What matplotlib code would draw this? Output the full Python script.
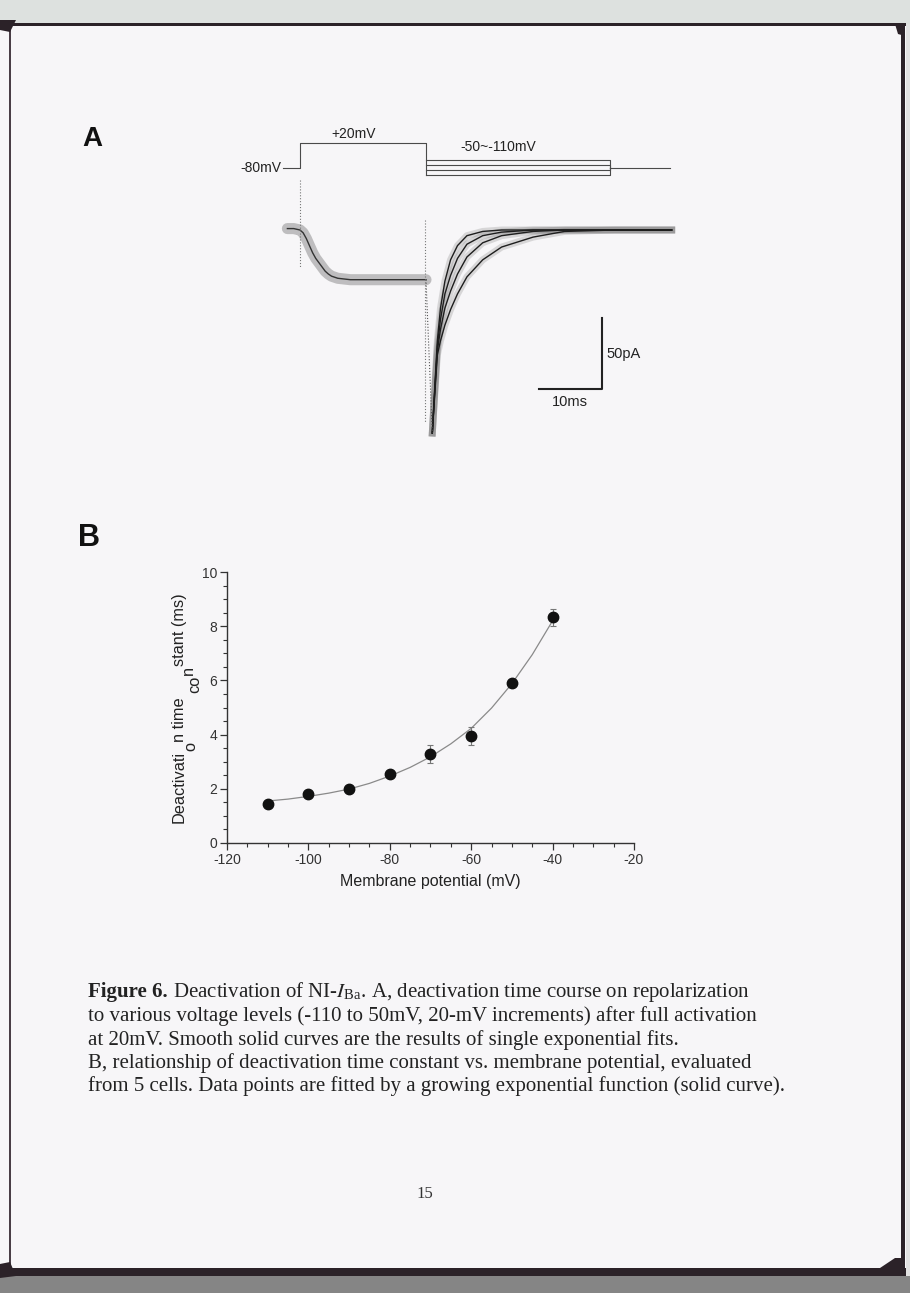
import matplotlib
matplotlib.use('Agg')
import matplotlib.pyplot as plt
from matplotlib.patches import Rectangle, Polygon
from matplotlib.ticker import MultipleLocator

plt.rcParams['font.family'] = ['Liberation Sans', 'DejaVu Sans']
plt.rcParams['mathtext.fontset'] = 'stix'
plt.rcParams['axes.unicode_minus'] = False

W, H = 910, 1293

# ---- panel A: voltage protocol (ms, mV) ----
hold_mv = -80
step_mv = 20
tail_mv = [-50, -70, -90, -110]
prot_t = [-2.7, 0.0, 20.0, 49.2, 58.7]  # start, step on, step off, tail off, end

# activation current during the +20 mV step (ms, pA)
act_t = [-2.0, -1.0, 0.0, 0.5, 1.0, 1.5, 2.0, 2.5, 3.0, 3.5, 4.0, 4.5, 5.0, 6.0, 8.0, 12.0, 16.0, 20.0]
act_i = [1, 1, 0, -2, -6, -11, -16, -20, -23, -26, -29, -31, -32.5, -34, -35, -35, -35, -35]

# tail currents on repolarization (ms after tail onset, pA)
tail_t0 = 21.0
tail_dt = [0, 0.4, 0.8, 1.3, 2.0, 2.9, 4.0, 5.5, 8.0, 11.0, 16.0, 21.0, 29.0, 38.0]
tail_110 = [-143, -110, -78, -55, -36, -21, -11, -4, -1, 0, 0, 0, 0, 0]
tail_90 = [-143, -112, -82, -63, -45, -32, -20, -10, -4, -1.5, 0, 0, 0, 0]
tail_70 = [-143, -113, -85, -70, -55, -43, -31, -19, -9, -4, -1, 0, 0, 0]
tail_50 = [-143, -115, -88, -78, -67, -56, -45, -33, -21, -12, -5, -1, 0, 0]

# ---- panel B: time constant vs potential ----
potential = [-110, -100, -90, -80, -70, -60, -50, -40]
tau = [1.44, 1.80, 1.98, 2.55, 3.28, 3.94, 5.90, 8.33]
tau_err = [0.08, 0.10, 0.08, 0.12, 0.32, 0.33, 0.10, 0.32]
fit_v = [-110, -105, -100, -95, -90, -85, -80, -75, -70, -65, -60, -55, -50, -45, -40]
fit_tau = [1.55, 1.62, 1.72, 1.84, 1.99, 2.20, 2.47, 2.79, 3.18, 3.66, 4.23, 4.98, 5.88, 6.95, 8.20]

caption = [
    'to various voltage levels (-110 to 50mV, 20-mV increments) after full activation',
    'at 20mV. Smooth solid curves are the results of single exponential fits.',
    'B, relationship of deactivation time constant vs. membrane potential, evaluated',
    'from 5 cells. Data points are fitted by a growing exponential function (solid curve).',
]

fig = plt.figure(figsize=(W / 100, H / 100), dpi=100)
fig.patch.set_facecolor('#f7f6f8')


def frac(x0, y0, x1, y1):
    # pixel box (top-left origin) -> figure axes rect
    return [x0 / W, 1 - y1 / H, (x1 - x0) / W, (y1 - y0) / H]


# page / book cover decoration
bg = fig.add_axes([0, 0, 1, 1], zorder=-5)
bg.set_xlim(0, W)
bg.set_ylim(H, 0)
bg.axis('off')
ink = '#2b2228'
bg.add_patch(Rectangle((0, 0), W, 24, color='#dde1df', lw=0))
bg.add_patch(Rectangle((0, 1276), W, 17, color='#858585', lw=0))
bg.add_patch(Rectangle((906, 24), 4, 1252, color='#e2e2e2', lw=0))
bg.add_patch(Rectangle((6, 23), 900, 3, color=ink, lw=0))
bg.add_patch(Rectangle((9, 24), 1.6, 1250, color='#4a3e46', lw=0))
bg.add_patch(Rectangle((901, 24), 4, 1250, color=ink, lw=0))
bg.add_patch(Rectangle((6, 1268), 900, 8, color=ink, lw=0))
bg.add_patch(Polygon([(0, 20), (16, 20), (10, 32), (0, 30)], color=ink, lw=0))
bg.add_patch(Polygon([(0, 1264), (10, 1262), (16, 1276), (0, 1278)], color=ink, lw=0))
bg.add_patch(Polygon([(880, 1268), (895, 1258), (905, 1258), (905, 1276), (880, 1276)], color=ink, lw=0))
bg.add_patch(Polygon([(895, 24), (905, 24), (905, 36), (898, 34)], color=ink, lw=0))

# ---- panel A ----
xl = ((250 - 300) / 6.3, (700 - 300) / 6.3)
tr = fig.add_axes(frac(250, 120, 700, 450))
tr.set_xlim(*xl)
tr.set_ylim(-(450 - 230) / 1.42, -(120 - 230) / 1.42)
tr.axis('off')
tr.patch.set_alpha(0)

pr = fig.add_axes(frac(250, 120, 700, 450))
pr.set_xlim(*xl)
pr.set_ylim(-80 - (450 - 168) / 0.25, -80 + (168 - 120) / 0.25)
pr.axis('off')
pr.patch.set_alpha(0)

pc = '#4a4a4a'
t0, t1, t2, t3, t4 = prot_t
pr.plot([t0, t1, t1, t2, t2], [hold_mv, hold_mv, step_mv, step_mv, min(tail_mv)], color=pc, lw=0.8)
for lv in tail_mv:
    pr.plot([t2, t3, t3], [lv, lv, hold_mv], color=pc, lw=0.8)
pr.plot([t3, t4], [hold_mv, hold_mv], color=pc, lw=0.8)
pr.text(t0 - 0.2, hold_mv, '-80mV', ha='right', va='center', fontsize=10, color='#222')
pr.text((t1 + t2) / 2 - 1.5, 56, '+20mV', ha='center', va='center', fontsize=10, color='#222')
pr.text(31.4, 4, '-50~-110mV', ha='center', va='center', fontsize=10, color='#222')

# recording noise band + fitted traces
tr.plot(act_t, act_i, color='#555', lw=8, alpha=0.35, solid_capstyle='round')
tr.plot(act_t, act_i, color='#333', lw=1.0)
tt = [tail_t0 + d for d in tail_dt]
for cur in (tail_110, tail_90, tail_70, tail_50):
    tr.plot(tt, cur, color='#666', lw=5, alpha=0.22)
for cur in (tail_110, tail_90, tail_70, tail_50):
    tr.plot(tt, cur, color='#1e1e1e', lw=1.0)
tr.plot([act_t[-1], tail_t0], [act_i[-1], tail_110[0]], color='#555', lw=0.8, ls=':')
tr.plot([0, 0], [35, -26], color='#777', lw=0.8, ls=':')
tr.plot([19.8, 19.8], [7, -135], color='#777', lw=0.8, ls=':')

# scale bar: 10 ms, 50 pA
sb_t, sb_i = 37.9, -112
tr.plot([sb_t, sb_t + 10, sb_t + 10], [sb_i, sb_i, sb_i + 50], color='#222', lw=1.5)
tr.text(sb_t + 10.8, sb_i + 25, '50pA', ha='left', va='center', fontsize=10.5, color='#222')
tr.text(sb_t + 5, sb_i - 4, '10ms', ha='center', va='top', fontsize=10.5, color='#222')

fig.text(82 / W, 1 - 146 / H, 'A', fontsize=20, fontweight='bold', color='#111')
fig.text(78 / W, 1 - 546 / H, 'B', fontsize=22, fontweight='bold', color='#111')

# ---- panel B ----
ax = fig.add_axes(frac(227, 572, 634, 843))
ax.patch.set_alpha(0)
ax.plot(fit_v, fit_tau, color='#8a8a8a', lw=0.9, zorder=2)
ax.errorbar(potential, tau, yerr=tau_err, fmt='o', color='#111', ms=7.5, ecolor='#777',
            elinewidth=0.8, capsize=2.5, capthick=0.8, zorder=3)
ax.set_xlim(-120, -20)
ax.set_ylim(0, 10)
ax.set_xticks(range(-120, -19, 20))
ax.set_yticks(range(0, 11, 2))
ax.xaxis.set_minor_locator(MultipleLocator(5))
ax.yaxis.set_minor_locator(MultipleLocator(0.5))
ax.tick_params(which='major', direction='out', length=5, width=0.9, labelsize=10, pad=2, colors='#333')
ax.tick_params(which='minor', direction='out', length=2.8, width=0.8, colors='#333')
for s in ('top', 'right'):
    ax.spines[s].set_visible(False)
for s in ('left', 'bottom'):
    ax.spines[s].set_linewidth(1.0)
    ax.spines[s].set_color('#333')
ax.set_xlabel('Membrane potential (mV)', fontsize=11.5, color='#222', labelpad=5)

# y label as scanned (broken sub/superscript placement)
fig.canvas.draw()
rend = fig.canvas.get_renderer()
lab_fs = 11.8
pieces = [('Deactivati', 0), ('o', 11), ('n time', 0), (' ', 0), ('co', 15), ('n', 9), ('stant (ms)', 0)]
ylab_x, ylab_y = 184, 823
sp = bg.text(0, 0, 'a a', fontsize=lab_fs)
sp2 = bg.text(0, 0, 'aa', fontsize=lab_fs)
space_w = sp.get_window_extent(rend).width - sp2.get_window_extent(rend).width
sp.remove()
sp2.remove()
y = ylab_y
for s, off in pieces:
    if s == ' ':
        y -= space_w
        continue
    t = bg.text(ylab_x + off, y, s, rotation=90, rotation_mode='anchor', ha='left',
                va='baseline', fontsize=lab_fs, color='#222')
    y -= t.get_window_extent(rend).height

# ---- caption ----
serif = ['Liberation Serif', 'DejaVu Serif']
cap_fs = 15
cx = 88
t = bg.text(cx, 997, 'Figure 6.', family=serif, fontweight='bold', fontsize=cap_fs, color='#222')
bx = t.get_window_extent(rend).width
bg.text(cx + bx, 997, r' Deactivation of NI-$I_{\mathregular{Ba}}$. A, deactivation time course on repolarization',
        family=serif, fontsize=cap_fs, color='#222')
for k, line in enumerate(caption):
    bg.text(cx, 1021 + 23.5 * k, line, family=serif, fontsize=cap_fs, color='#222')

bg.text(425, 1198, '15', family=serif, fontsize=12, color='#333', ha='center')

fig.savefig('out.png', dpi=100, facecolor=fig.get_facecolor())
